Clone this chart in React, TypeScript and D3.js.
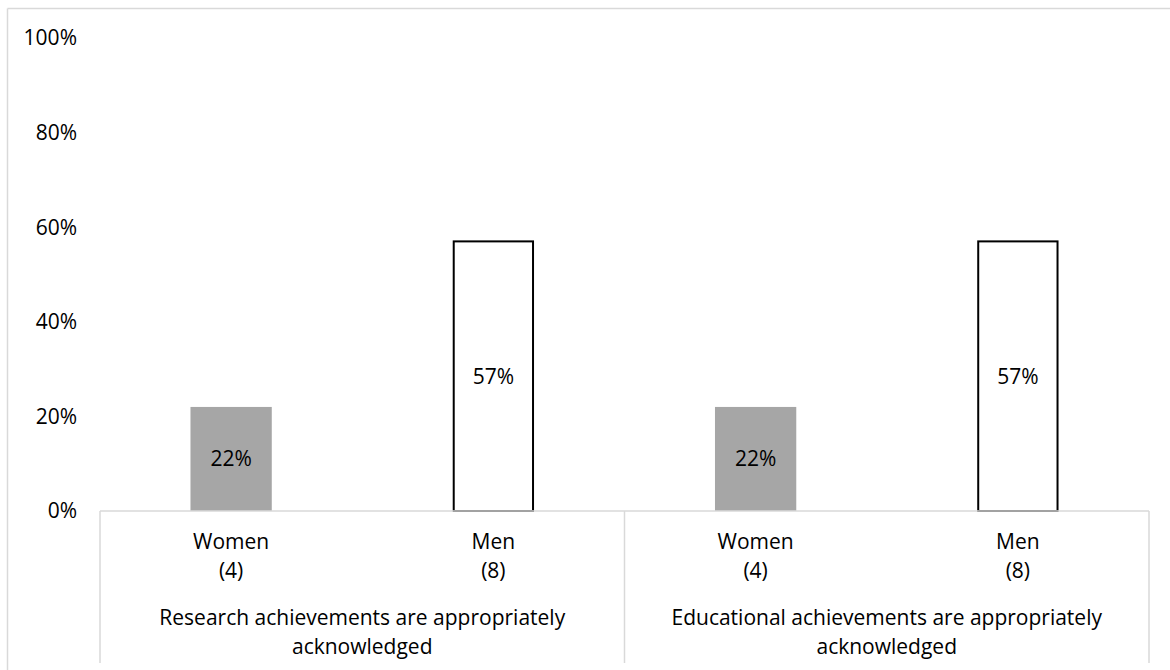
import React from "react";
import * as d3 from "d3";

const groups = ["Research achievements are appropriately acknowledged", "Educational achievements are appropriately acknowledged"];
const groupLines = [
  ["Research achievements are appropriately", "acknowledged"],
  ["Educational achievements are appropriately", "acknowledged"],
];
const categories = ["Women", "Men"];
const counts = ["(4)", "(8)"];
const values = [
  [22, 57],
  [22, 57],
];
const yTicks = [0, 20, 40, 60, 80, 100];

const W = 1170;
const H = 670;
const FONT = "'Open Sans', 'Noto Sans', sans-serif";
const FS = 21;

// layout
const baseY = 511;
const topY = 38;
const plotLeft = 100;
const plotRight = 1149;

export default function App() {
  const y = d3.scaleLinear().domain([0, 100]).range([baseY, topY]);
  const xg = d3.scaleBand<string>().domain(groups).range([plotLeft, plotRight]).padding(0);
  const fmt = (v: number) => `${v}%`;
  const boxEdges = [...groups.map((g) => xg(g)!), plotRight];

  return (
    <svg width={W} height={H} style={{ position: "absolute", left: 0, top: 0, background: "#fff" }} fontFamily={FONT}>
      <rect x={0} y={0} width={W} height={H} fill="#fff" />
      {/* outer frame */}
      <line x1={7.5} x2={W} y1={8.5} y2={8.5} stroke="#d9d9d9" strokeWidth={1.5} />
      <line x1={7.5} x2={7.5} y1={8.5} y2={H} stroke="#d9d9d9" strokeWidth={1.5} />

      {/* y tick labels */}
      {yTicks.map((t) => (
        <text key={t} x={77} y={y(t)} dy="0.35em" textAnchor="end" fontSize={FS} fill="#000">
          {fmt(t)}
        </text>
      ))}

      {/* bars */}
      {groups.map((g, gi) => {
        const g0 = xg(g)!;
        const xb = d3
          .scaleBand<string>()
          .domain(categories)
          .range([g0, g0 + xg.bandwidth()])
          .paddingInner(0.69)
          .paddingOuter(0.345);
        return (
          <g key={g}>
            {categories.map((c, ci) => {
              const v = values[gi][ci];
              const x0 = xb(c)!;
              const bw = xb.bandwidth();
              const isMen = ci === 1;
              return (
                <g key={c}>
                  {isMen ? (
                    <rect x={x0 + 1} y={y(v)} width={bw - 2} height={baseY - y(v)} fill="#fff" stroke="#000" strokeWidth={2} />
                  ) : (
                    <rect x={x0} y={y(v)} width={bw} height={baseY - y(v)} fill="#a6a6a6" />
                  )}
                  <text x={x0 + bw / 2} y={(y(v) + baseY) / 2} dy="0.35em" textAnchor="middle" fontSize={FS} fill="#000">
                    {fmt(v)}
                  </text>
                  <text x={x0 + bw / 2} y={549} textAnchor="middle" fontSize={FS} fill="#000">
                    {c}
                  </text>
                  <text x={x0 + bw / 2} y={578} textAnchor="middle" fontSize={FS} fill="#000">
                    {counts[ci]}
                  </text>
                </g>
              );
            })}
            {groupLines[gi].map((ln, li) => (
              <text key={li} x={g0 + xg.bandwidth() / 2} y={625 + li * 29} textAnchor="middle" fontSize={FS} fill="#000">
                {ln}
              </text>
            ))}
          </g>
        );
      })}

      {/* category box lines */}
      <line x1={plotLeft} x2={plotRight} y1={baseY} y2={baseY} stroke="#d9d9d9" strokeWidth={1.5} />
      {boxEdges.map((bx, i) => (
        <line key={i} x1={bx} x2={bx} y1={baseY} y2={663} stroke="#d9d9d9" strokeWidth={1.5} />
      ))}
    </svg>
  );
}
